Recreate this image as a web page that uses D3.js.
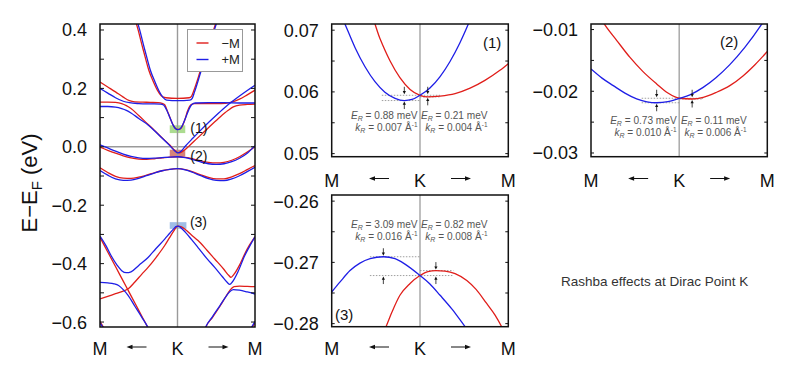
<!DOCTYPE html>
<html><head><meta charset="utf-8">
<script src="https://cdn.jsdelivr.net/npm/d3@7"></script>
<style>
body{margin:0;background:#fff}
svg{display:block}
text{font-family:"Liberation Sans",Arial,Helvetica,sans-serif}
</style>
</head><body>
<svg id="c" width="800" height="379"></svg>
<script>
// ---------------- DATA ----------------
const xLabels = ["M","K","M"];
const legendLabels = ["−M","+M"];
const seriesColors = ["#e01e1a","#1e1ee6"];   // −M (red), +M (blue)
const mainTickLabels = [0.4,0.2,0.0,-0.2,-0.4,-0.6];
const mainMinorTicks = [0.3,0.1,-0.1,-0.3,-0.5];
const panelNames = ["(1)","(2)","(3)"];
const noteText = "Rashba effects at Dirac Point K";

// main panel bands: [k (M=-1, K=0, M=+1), E (eV)]
const redU = [[-0.57,0.445],[-0.53,0.42],[-0.46,0.35],[-0.41,0.30],[-0.37,0.262],[-0.31,0.222],[-0.26,0.194],[-0.21,0.175],[-0.15,0.168],[0,0.166],[0.15,0.168],[0.18,0.173],[0.21,0.192],[0.297,0.262],[0.39,0.339],[0.49,0.42],[0.52,0.445]];
const blueU = [[-0.55,0.445],[-0.51,0.42],[-0.44,0.35],[-0.39,0.30],[-0.35,0.262],[-0.29,0.222],[-0.24,0.192],[-0.19,0.17],[-0.14,0.16],[0,0.158],[0.16,0.16],[0.19,0.166],[0.22,0.188],[0.307,0.262],[0.40,0.339],[0.50,0.42],[0.53,0.445]];
const redF = [[-1,0.222],[-0.9,0.205],[-0.8,0.188],[-0.7,0.170],[-0.62,0.158],[-0.55,0.154],[-0.45,0.153],[-0.35,0.152],[-0.25,0.151],[-0.2,0.149],[-0.165,0.144],[-0.13,0.122],[-0.1,0.102],[-0.058,0.075],[-0.025,0.063],[0.01,0.0595],[0.04,0.062],[0.071,0.076],[0.1,0.097],[0.126,0.12],[0.155,0.138],[0.178,0.145],[0.22,0.148],[0.35,0.148],[0.5,0.148],[0.62,0.149],[0.7,0.153],[0.8,0.163],[0.9,0.178],[1.0,0.194]];
const blueF = [[-1,0.200],[-0.9,0.184],[-0.8,0.168],[-0.7,0.156],[-0.62,0.151],[-0.5,0.148],[-0.4,0.147],[-0.3,0.147],[-0.22,0.146],[-0.18,0.143],[-0.14,0.126],[-0.1,0.101],[-0.06,0.076],[-0.025,0.062],[0,0.0586],[0.035,0.062],[0.07,0.077],[0.11,0.103],[0.15,0.13],[0.185,0.145],[0.23,0.150],[0.4,0.151],[0.6,0.151],[0.8,0.150],[1.0,0.150]];
const redD = [[-1,0.153],[-0.9,0.153],[-0.8,0.152],[-0.72,0.148],[-0.66,0.141],[-0.6,0.131],[-0.5,0.107],[-0.4,0.082],[-0.3,0.057],[-0.2,0.031],[-0.1,0.006],[-0.04,-0.011],[0.02,-0.021],[0.07,-0.015],[0.15,0.003],[0.25,0.028],[0.35,0.053],[0.45,0.078],[0.55,0.102],[0.65,0.124],[0.72,0.137],[0.8,0.143],[0.9,0.145],[1.0,0.146]];
const blueD = [[-1,0.138],[-0.9,0.138],[-0.8,0.136],[-0.72,0.131],[-0.66,0.125],[-0.6,0.116],[-0.5,0.097],[-0.38,0.075],[-0.3,0.056],[-0.2,0.030],[-0.1,0.004],[-0.04,-0.013],[0,-0.021],[0.05,-0.014],[0.1,0.002],[0.2,0.030],[0.3,0.057],[0.4,0.083],[0.5,0.108],[0.6,0.132],[0.7,0.154],[0.8,0.174],[0.9,0.193],[1.0,0.211]];
const redW1 = [[-1,-0.001],[-0.9,-0.012],[-0.8,-0.022],[-0.7,-0.031],[-0.6,-0.038],[-0.5,-0.042],[-0.4,-0.043],[-0.3,-0.041],[-0.2,-0.038],[-0.1,-0.035],[0,-0.034],[0.1,-0.036],[0.2,-0.041],[0.3,-0.048],[0.4,-0.053],[0.5,-0.055],[0.6,-0.053],[0.7,-0.046],[0.8,-0.034],[0.9,-0.018],[1.0,0.0]];
const blueW1 = [[-1,0.007],[-0.9,-0.004],[-0.8,-0.015],[-0.7,-0.025],[-0.6,-0.033],[-0.5,-0.038],[-0.4,-0.040],[-0.3,-0.039],[-0.2,-0.037],[-0.1,-0.035],[0,-0.034],[0.1,-0.037],[0.2,-0.044],[0.3,-0.052],[0.4,-0.058],[0.5,-0.060],[0.6,-0.058],[0.7,-0.051],[0.8,-0.039],[0.9,-0.022],[1.0,0.004]];
const redW2 = [[-1,-0.072],[-0.9,-0.088],[-0.8,-0.101],[-0.7,-0.107],[-0.6,-0.108],[-0.5,-0.104],[-0.4,-0.097],[-0.3,-0.089],[-0.2,-0.082],[-0.1,-0.077],[0,-0.075],[0.1,-0.078],[0.2,-0.086],[0.3,-0.096],[0.4,-0.105],[0.5,-0.110],[0.6,-0.110],[0.7,-0.103],[0.8,-0.092],[0.9,-0.078],[1.0,-0.064]];
const blueW2 = [[-1,-0.081],[-0.9,-0.097],[-0.8,-0.110],[-0.7,-0.115],[-0.6,-0.114],[-0.5,-0.108],[-0.4,-0.099],[-0.3,-0.090],[-0.2,-0.082],[-0.1,-0.077],[0,-0.075],[0.1,-0.079],[0.2,-0.088],[0.3,-0.099],[0.4,-0.109],[0.5,-0.115],[0.6,-0.116],[0.7,-0.110],[0.8,-0.099],[0.9,-0.085],[1.0,-0.070]];
const redX = [[-1,-0.521],[-0.9,-0.512],[-0.8,-0.503],[-0.7,-0.494],[-0.64,-0.487],[-0.55,-0.463],[-0.46,-0.436],[-0.38,-0.413],[-0.28,-0.380],[-0.165,-0.338],[-0.1,-0.31],[-0.05,-0.289],[-0.015,-0.275],[0.015,-0.2713],[0.05,-0.274],[0.1,-0.283],[0.18,-0.302],[0.265,-0.321],[0.38,-0.354],[0.48,-0.384],[0.6,-0.420],[0.66,-0.440],[0.69,-0.447],[0.73,-0.436],[0.8,-0.405],[0.867,-0.367],[0.93,-0.336],[1.0,-0.308]];
const blueX = [[-1,-0.306],[-0.92,-0.34],[-0.854,-0.374],[-0.78,-0.405],[-0.72,-0.424],[-0.66,-0.431],[-0.6,-0.428],[-0.5,-0.406],[-0.38,-0.379],[-0.28,-0.349],[-0.165,-0.316],[-0.1,-0.296],[-0.05,-0.281],[-0.015,-0.2725],[0.01,-0.2715],[0.05,-0.279],[0.1,-0.292],[0.18,-0.317],[0.265,-0.345],[0.38,-0.383],[0.48,-0.413],[0.58,-0.445],[0.64,-0.464],[0.675,-0.471],[0.71,-0.462],[0.78,-0.428],[0.867,-0.373],[0.93,-0.341],[1.0,-0.308]];
const redSL = [[-1,-0.31],[-0.9,-0.36],[-0.8,-0.41],[-0.7,-0.46],[-0.64,-0.49],[-0.55,-0.535],[-0.46,-0.58],[-0.38,-0.62],[-0.34,-0.64]];
const blueSL = [[-1,-0.464],[-0.9,-0.466],[-0.82,-0.469],[-0.76,-0.475],[-0.7,-0.489],[-0.64,-0.508],[-0.55,-0.546],[-0.46,-0.584],[-0.38,-0.619],[-0.34,-0.64]];
const redSR = [[0.34,-0.64],[0.36,-0.622],[0.45,-0.585],[0.55,-0.545],[0.63,-0.51],[0.68,-0.49],[0.73,-0.479],[0.8,-0.477],[0.9,-0.478],[1.0,-0.479]];
const blueSR = [[0.33,-0.64],[0.355,-0.622],[0.45,-0.582],[0.55,-0.543],[0.62,-0.515],[0.67,-0.497],[0.72,-0.489],[0.8,-0.491],[0.9,-0.497],[1.0,-0.504]];
const redCL = [[-1,-0.598],[-0.97,-0.611],[-0.93,-0.63]];
const blueCL = [[-1,-0.603],[-0.965,-0.617],[-0.93,-0.632]];
const redCR = [[0.93,-0.632],[0.965,-0.617],[1,-0.603]];
const blueCR = [[0.93,-0.63],[0.97,-0.611],[1,-0.598]];
// highlight boxes [k0,k1,E0,E1]
const boxes = [[-0.10,0.10,0.047,0.0735],[-0.10,0.10,-0.033,-0.010],[-0.10,0.115,-0.281,-0.258]];
const boxColors = ["#9dd67c","#cf6f63","#8fb2e2"];

// zoom panels: [k (1/Å), E (eV)]
const p1Ticks = [0.05,0.06,0.07], p1Minor = [0.055,0.065];
const p2Ticks = [-0.03,-0.02,-0.01], p2Minor = [-0.025,-0.015];
const p3Ticks = [-0.28,-0.27,-0.26], p3Minor = [-0.275,-0.265];
const p1Blue = [[-0.0362,0.0728],[-0.0340,0.0710],[-0.0294,0.06716],[-0.0249,0.06407],[-0.0204,0.06165],[-0.0159,0.05995],[-0.0113,0.05896],[-0.0071,0.0586],[-0.0036,0.05877],[0,0.05945],[0.0045,0.06063],[0.0091,0.06248],[0.0136,0.06493],[0.0181,0.06797],[0.0219,0.0710],[0.0240,0.0728]];
const p1Red = [[-0.0240,0.0735],[-0.0227,0.0730],[-0.0181,0.0686],[-0.0136,0.06504],[-0.0091,0.0623],[-0.0045,0.0604],[0,0.05945],[0.0035,0.0592],[0.0091,0.05932],[0.0159,0.05972],[0.0227,0.0606],[0.0294,0.06186],[0.0362,0.0635],[0.0400,0.06457]];
const p2Blue = [[-0.0400,-0.01639],[-0.0350,-0.01787],[-0.0299,-0.01908],[-0.0246,-0.02029],[-0.0193,-0.02123],[-0.0146,-0.02172],[-0.0102,-0.02186],[-0.0051,-0.02168],[0,-0.02115],[0.0049,-0.02058],[0.0109,-0.01937],[0.0167,-0.01781],[0.0230,-0.01569],[0.0298,-0.0129],[0.0374,-0.00917],[0.0400,-0.00775]];
const p2Red = [[-0.0368,-0.00747],[-0.0337,-0.00924],[-0.0282,-0.01182],[-0.0223,-0.01452],[-0.0164,-0.01682],[-0.0102,-0.01881],[-0.0051,-0.02029],[0,-0.02113],[0.0059,-0.02125],[0.0109,-0.0210],[0.0170,-0.02016],[0.0230,-0.01908],[0.0291,-0.01747],[0.0344,-0.01569],[0.0400,-0.01355]];
const p3Blue = [[-0.0400,-0.27484],[-0.0362,-0.27319],[-0.0317,-0.27134],[-0.0272,-0.27013],[-0.0226,-0.2694],[-0.0166,-0.26908],[-0.0113,-0.2694],[-0.0068,-0.27029],[0,-0.27215],[0.0045,-0.27352],[0.0091,-0.27537],[0.0145,-0.27763],[0.0204,-0.28048],[0.0236,-0.28198]];
const p3Red = [[-0.0181,-0.28263],[-0.0154,-0.2805],[-0.0127,-0.27811],[-0.0091,-0.27537],[-0.0045,-0.27344],[0,-0.27215],[0.0036,-0.2715],[0.0072,-0.27134],[0.0113,-0.27142],[0.0159,-0.27182],[0.0212,-0.27295],[0.0254,-0.2744],[0.0302,-0.27671],[0.034,-0.2786],[0.037,-0.2805],[0.039,-0.28198]];
// Rashba extrema [k, E], crossing energy at K, dotted guide levels [k0,k1,E]
const p1Ext = [[-0.0071,0.0586],[0.0035,0.0592]], p1Cross = 0.05945;
const p2Ext = [[-0.0102,-0.02186],[0.0059,-0.02125]], p2Cross = -0.02113;
const p3Ext = [[-0.0166,-0.26908],[0.0072,-0.27134]], p3Cross = -0.27215;
const p1Levels = [[-0.0173,0.0091,0.05945],[-0.0173,0,0.0586],[0,0.0091,0.0592]];
const p2Levels = [[-0.017,0.0109,-0.02113],[-0.017,0,-0.02186],[0,0.0109,-0.02125]];
const p3Levels = [[-0.0227,0,-0.26908],[-0.0227,0.0151,-0.27215],[0,0.0151,-0.27134]];
const p1ER = [0.88,0.21], p1kR = [0.007,0.004];
const p2ER = [0.73,0.11], p2kR = [0.010,0.006];
const p3ER = [3.09,0.82], p3kR = [0.016,0.008];

// ---------------- DRAW ----------------
const svg = d3.select("#c");
const defs = svg.append("defs");
const RED = seriesColors[0], BLUE = seriesColors[1];

function clip(id,x0,x1,y0,y1){
  defs.append("clipPath").attr("id",id).append("rect")
    .attr("x",x0).attr("y",y0).attr("width",x1-x0).attr("height",y1-y0);
}
function arrowH(g,xa,xb,y){ // arrow from xa to xb (head at xb)
  const dir = xb>xa?1:-1;
  g.append("line").attr("x1",xa).attr("x2",xb-dir*4).attr("y1",y).attr("y2",y)
    .attr("stroke","#111").attr("stroke-width",1);
  g.append("path").attr("d",`M${xb},${y}L${xb-dir*6},${y-2.2}L${xb-dir*6},${y+2.2}Z`).attr("fill","#111");
}
function arrowV(g,x,ya,yb){
  const dir = yb>ya?1:-1;
  g.append("line").attr("x1",x).attr("x2",x).attr("y1",ya).attr("y2",yb-dir*2.5)
    .attr("stroke","#111").attr("stroke-width",0.8);
  g.append("path").attr("d",`M${x},${yb}L${x-1.6},${yb-dir*3.2}L${x+1.6},${yb-dir*3.2}Z`).attr("fill","#111");
}
function xAxisLabels(g,x0,x1,yb){
  const xc=(x0+x1)/2;
  [x0,xc,x1].forEach((xx,i)=>g.append("text").attr("x",xx).attr("y",yb)
    .attr("text-anchor","middle").attr("font-size",18).attr("fill","#111").text(xLabels[i]));
  arrowH(g,xc-31,xc-51,yb-8);
  arrowH(g,xc+31,xc+51,yb-8);
}
function yTicks(g,x0,x1,y,major,minor,fmt,len){
  major.concat(minor).forEach(t=>{
    g.append("line").attr("x1",x0).attr("x2",x0+len).attr("y1",y(t)).attr("y2",y(t)).attr("stroke","#111").attr("stroke-width",1);
    g.append("line").attr("x1",x1-len).attr("x2",x1).attr("y1",y(t)).attr("y2",y(t)).attr("stroke","#111").attr("stroke-width",1);
  });
  major.forEach(t=>g.append("text").attr("x",x0-13).attr("y",y(t)).attr("dy","0.36em")
    .attr("text-anchor","end").attr("font-size",18).attr("fill","#111").text(d3.format(fmt)(t)));
}

// ===== main panel =====
{
  const X0=100,X1=255,Y0=24,Y1=327;
  const x=d3.scaleLinear().domain([-1,1]).range([X0,X1]);
  const y=d3.scaleLinear().domain([-0.617,0.4205]).range([Y1,Y0]);
  clip("cm",X0,X1,Y0,Y1);
  const g=svg.append("g");
  const gc=g.append("g").attr("clip-path","url(#cm)");
  boxes.forEach((b,i)=>gc.append("rect").attr("x",x(b[0])).attr("width",x(b[1])-x(b[0]))
    .attr("y",y(b[3])).attr("height",y(b[2])-y(b[3])).attr("fill",boxColors[i]).attr("opacity",0.85));
  gc.append("line").attr("x1",X0).attr("x2",X1).attr("y1",y(0)).attr("y2",y(0)).attr("stroke","#9a9a9a").attr("stroke-width",1.4);
  gc.append("line").attr("x1",x(0)).attr("x2",x(0)).attr("y1",Y0).attr("y2",Y1).attr("stroke","#9a9a9a").attr("stroke-width",1.4);
  const line=d3.line().x(d=>x(d[0])).y(d=>y(d[1])).curve(d3.curveMonotoneX);
  [redU,redF,redD,redW1,redW2,redX,redSL,redSR,redCL,redCR].forEach(b=>
    gc.append("path").attr("d",line(b)).attr("fill","none").attr("stroke",RED).attr("stroke-width",1.3));
  [blueU,blueF,blueD,blueW1,blueW2,blueX,blueSL,blueSR,blueCL,blueCR].forEach(b=>
    gc.append("path").attr("d",line(b)).attr("fill","none").attr("stroke",BLUE).attr("stroke-width",1.3));
  // labels (1)(2)(3)
  [[0.075,0.060],[0.075,-0.035],[0.07,-0.262]].forEach((p,i)=>
    g.append("text").attr("x",x(p[0])+7).attr("y",y(p[1])+4).attr("font-size",14).attr("fill","#111").text(panelNames[i]));
  // legend
  const lg=g.append("g");
  lg.append("rect").attr("x",187.5).attr("y",29.5).attr("width",55).attr("height",42)
    .attr("fill","#fff").attr("stroke","#999").attr("stroke-width",1);
  legendLabels.forEach((l,i)=>{
    const yy=43+i*16.5;
    lg.append("line").attr("x1",196.5).attr("x2",208.5).attr("y1",yy).attr("y2",yy).attr("stroke",seriesColors[i]).attr("stroke-width",1.4);
    lg.append("text").attr("x",221.5).attr("y",yy+4.6).attr("font-size",13).attr("fill","#222").text(l);
  });
  yTicks(g,X0,X1,y,mainTickLabels,mainMinorTicks,".1f",4);
  g.append("rect").attr("x",X0).attr("y",Y0).attr("width",X1-X0).attr("height",Y1-Y0)
    .attr("fill","none").attr("stroke","#111").attr("stroke-width",1.5);
  xAxisLabels(g,X0,X1,355);
  const yl=g.append("text").attr("transform","translate(37,183) rotate(-90)")
    .attr("text-anchor","middle").attr("font-size",22).attr("fill","#111");
  yl.append("tspan").text("E−E");
  yl.append("tspan").attr("font-size",15).attr("dy",5).text("F");
  yl.append("tspan").attr("dy",-5).text(" (eV)");
}

// ===== zoom panels =====
function zoomPanel(cfg){
  const {X0,X1,Y0,Y1,dom,ticks,minor,red,blue,ext,cross,levels,ER,kR,textY,labelPos,name,axisY,id}=cfg;
  const x=d3.scaleLinear().domain([-0.04,0.04]).range([X0,X1]);
  const y=d3.scaleLinear().domain(dom).range([Y1,Y0]);
  clip(id,X0,X1,Y0,Y1);
  const g=svg.append("g");
  const gc=g.append("g").attr("clip-path",`url(#${id})`);
  gc.append("line").attr("x1",x(0)).attr("x2",x(0)).attr("y1",Y0).attr("y2",Y1).attr("stroke","#8a8a8a").attr("stroke-width",1.1);
  levels.forEach(l=>gc.append("line").attr("x1",x(l[0])).attr("x2",x(l[1])).attr("y1",y(l[2])).attr("y2",y(l[2]))
    .attr("stroke","#888").attr("stroke-width",0.8).attr("stroke-dasharray","1.5,1.5"));
  const line=d3.line().x(d=>x(d[0])).y(d=>y(d[1])).curve(d3.curveMonotoneX);
  gc.append("path").attr("d",line(red)).attr("fill","none").attr("stroke",RED).attr("stroke-width",1.3);
  gc.append("path").attr("d",line(blue)).attr("fill","none").attr("stroke",BLUE).attr("stroke-width",1.3);
  // arrows
  ext.forEach(e=>{
    const xe=x(e[0]);
    const ya=Math.min(y(e[1]),y(cross)), yb=Math.max(y(e[1]),y(cross));
    arrowV(gc,xe,ya-8.5,ya-1);
    arrowV(gc,xe,yb+8.5,yb+1);
  });
  // notes
  const xc=x(0);
  [[xc-2.5,0],[xc+67.5,1]].forEach(([xx,i])=>{
    const t1=g.append("text").attr("x",xx).attr("y",textY).attr("text-anchor","end").attr("font-size",10.1).attr("fill","#555");
    t1.append("tspan").attr("font-style","italic").text("E");
    t1.append("tspan").attr("font-style","italic").attr("font-size",7).attr("dy",2.5).text("R");
    t1.append("tspan").attr("dy",-2.5).text(" = "+d3.format(".2f")(ER[i])+" meV");
    const t2=g.append("text").attr("x",xx).attr("y",textY+12).attr("text-anchor","end").attr("font-size",10.1).attr("fill","#555");
    t2.append("tspan").attr("font-style","italic").text("k");
    t2.append("tspan").attr("font-style","italic").attr("font-size",7).attr("dy",2.5).text("R");
    t2.append("tspan").attr("dy",-2.5).text(" = "+d3.format(".3f")(kR[i])+" Å");
    t2.append("tspan").attr("font-size",6.5).attr("dy",-4).text("-1");
  });
  g.append("text").attr("x",labelPos[0]).attr("y",labelPos[1]).attr("font-size",15).attr("fill","#111").text(name);
  yTicks(g,X0,X1,y,ticks,minor,".2f",3);
  g.append("rect").attr("x",X0).attr("y",Y0).attr("width",X1-X0).attr("height",Y1-Y0)
    .attr("fill","none").attr("stroke","#111").attr("stroke-width",1.5);
  xAxisLabels(g,X0,X1,axisY);
}
zoomPanel({id:"c1",X0:331.7,X1:508.3,Y0:24,Y1:156.7,dom:[0.0495,0.0710],ticks:p1Ticks,minor:p1Minor,
  red:p1Red,blue:p1Blue,ext:p1Ext,cross:p1Cross,levels:p1Levels,ER:p1ER,kR:p1kR,textY:118.5,
  labelPos:[483,47.5],name:panelNames[0],axisY:186.5});
zoomPanel({id:"c2",X0:591,X1:767.3,Y0:24,Y1:156.7,dom:[-0.0306,-0.0091],ticks:p2Ticks,minor:p2Minor,
  red:p2Red,blue:p2Blue,ext:p2Ext,cross:p2Cross,levels:p2Levels,ER:p2ER,kR:p2kR,textY:123.5,
  labelPos:[720,47],name:panelNames[1],axisY:186.5});
zoomPanel({id:"c3",X0:331.7,X1:508.3,Y0:195,Y1:326.7,dom:[-0.2805,-0.2590],ticks:p3Ticks,minor:p3Minor,
  red:p3Red,blue:p3Blue,ext:p3Ext,cross:p3Cross,levels:p3Levels,ER:p3ER,kR:p3kR,textY:227.5,
  labelPos:[335,319.5],name:panelNames[2],axisY:355});

svg.append("text").attr("x",561).attr("y",285.5).attr("font-size",13.5).attr("fill","#333").text(noteText);
</script>
</body></html>
